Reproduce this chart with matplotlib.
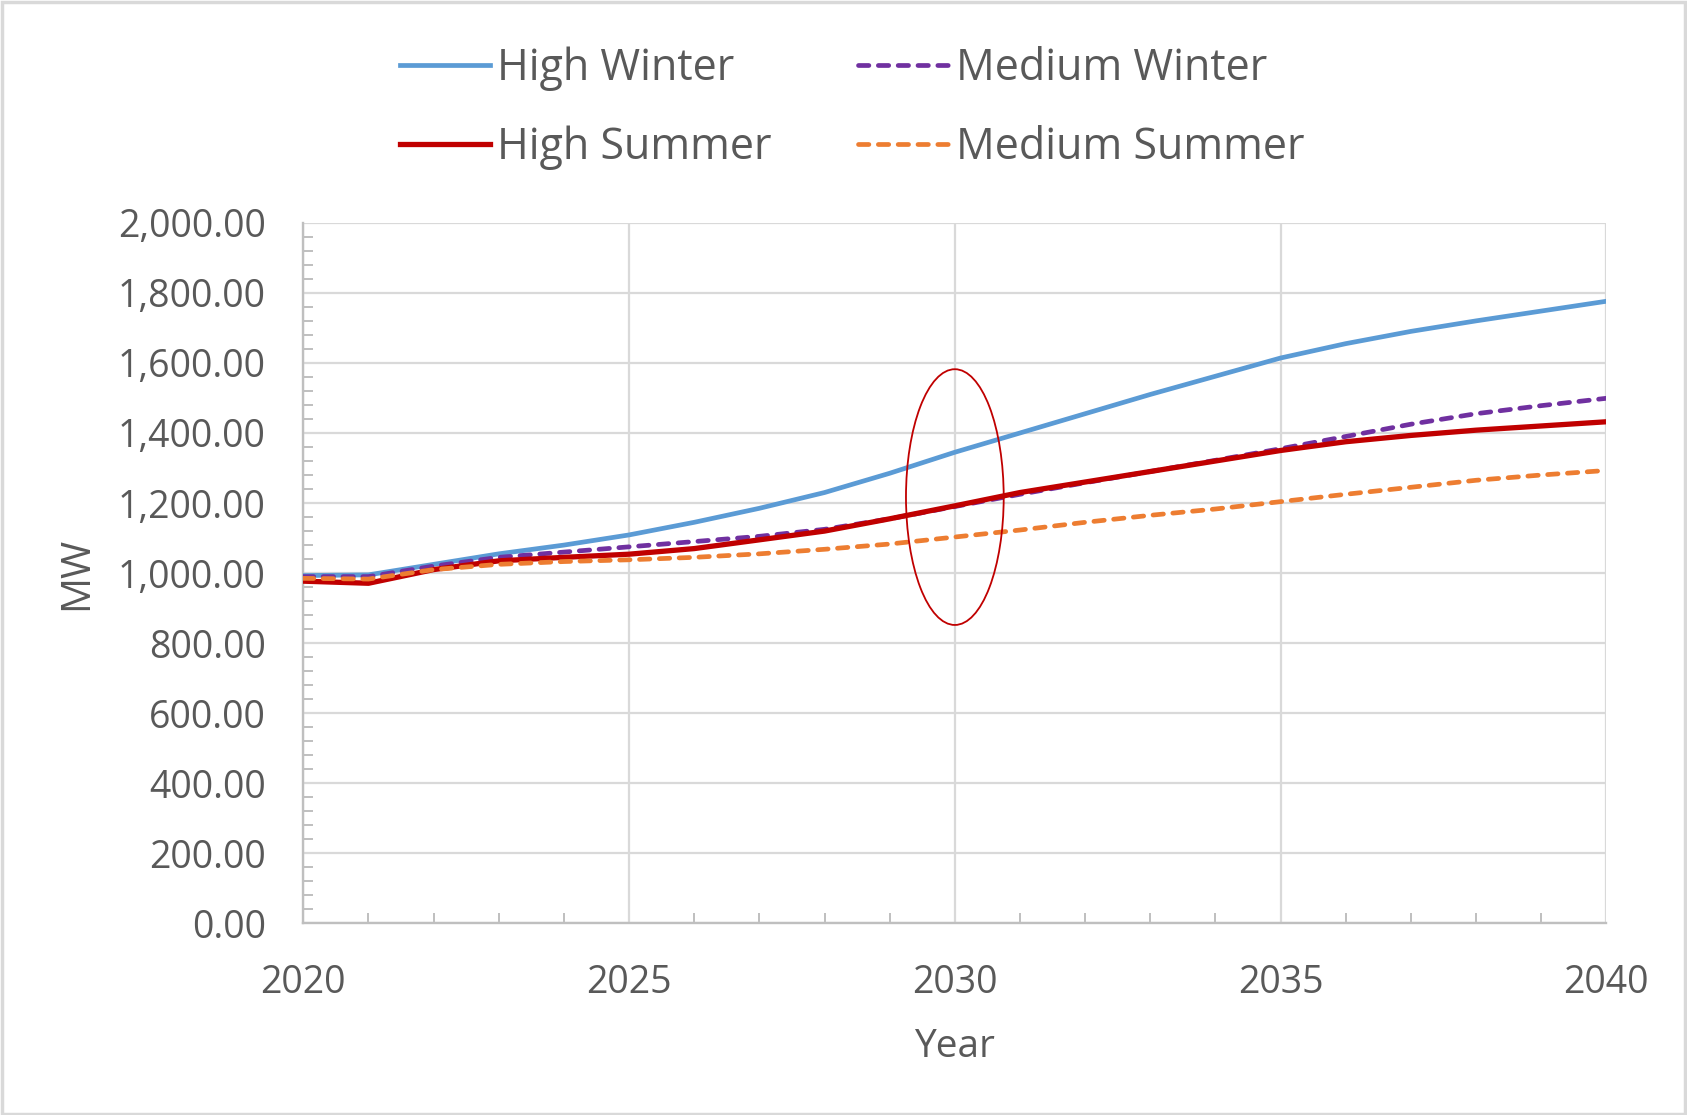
import matplotlib
matplotlib.use("Agg")
import matplotlib.pyplot as plt
from matplotlib.patches import Ellipse, Rectangle
from matplotlib.ticker import MultipleLocator, FuncFormatter

years = list(range(2020, 2041))

high_winter = [993, 995, 1025, 1055, 1080, 1109, 1145, 1185, 1230, 1285, 1345,
               1400, 1455, 1510, 1562, 1614, 1655, 1690, 1720, 1748, 1776]
medium_winter = [990, 990, 1020, 1045, 1060, 1075, 1090, 1105, 1125, 1155, 1190,
                 1225, 1258, 1290, 1322, 1355, 1390, 1425, 1455, 1478, 1499]
high_summer = [977, 971, 1010, 1035, 1045, 1054, 1070, 1095, 1120, 1155, 1192,
               1230, 1260, 1290, 1320, 1350, 1375, 1393, 1408, 1420, 1432]
medium_summer = [985, 983, 1010, 1025, 1033, 1038, 1045, 1055, 1068, 1083, 1103,
                 1123, 1145, 1165, 1183, 1204, 1225, 1245, 1265, 1280, 1293]

# highlighted region around 2030
highlight_year = 2030
highlight_mw = 1217
highlight_width_years = 1.5
highlight_height_mw = 730

plt.rcParams["font.family"] = ["Open Sans", "DejaVu Sans"]
TEXT = "#595959"
GRID = "#D9D9D9"
AXIS = "#BFBFBF"

fig = plt.figure(figsize=(16.87, 11.15), dpi=100)
ax = fig.add_axes([0.1798, 0.1718, 0.9522 - 0.1798, 0.8002 - 0.1718])

lw = 3.4
dash = (0, (2.2, 2.0))
ax.plot(years, high_winter, color="#5B9BD5", lw=lw, label="High Winter", zorder=3)
ax.plot(years, medium_winter, color="#7030A0", lw=lw, ls=dash,
        dash_capstyle="round", label="Medium Winter", zorder=4)
ax.plot(years, high_summer, color="#C00000", lw=lw + 0.4, label="High Summer", zorder=5)
ax.plot(years, medium_summer, color="#ED7D31", lw=lw, ls=dash,
        dash_capstyle="round", label="Medium Summer", zorder=6)

ax.add_patch(Ellipse((highlight_year, highlight_mw), highlight_width_years,
                     highlight_height_mw, fill=False, edgecolor="#C00000",
                     lw=1.3, zorder=7))

ax.set_xlim(2020, 2040)
ax.set_ylim(0, 2000)
ax.xaxis.set_major_locator(MultipleLocator(5))
ax.xaxis.set_minor_locator(MultipleLocator(1))
ax.yaxis.set_major_locator(MultipleLocator(200))
ax.yaxis.set_minor_locator(MultipleLocator(40))
ax.yaxis.set_major_formatter(FuncFormatter(lambda v, p: f"{v:,.2f}"))

ax.grid(True, which="major", color=GRID, lw=1.6, zorder=0)
ax.set_axisbelow(True)
for s in ("top", "right"):
    ax.spines[s].set_visible(False)
for s in ("left", "bottom"):
    ax.spines[s].set_color(AXIS)
    ax.spines[s].set_linewidth(1.7)

ax.tick_params(which="major", length=0, labelsize=27, labelcolor=TEXT)
ax.tick_params(axis="y", which="major", pad=27)
ax.tick_params(axis="x", which="major", pad=29)
ax.tick_params(which="minor", direction="in", length=7, width=1.4, color=AXIS)

ax.set_xlabel("Year", fontsize=28, color=TEXT)
ax.set_ylabel("MW", fontsize=29, color=TEXT)
ax.xaxis.set_label_coords(0.5, -0.149)
ax.yaxis.set_label_coords(-0.1585, 0.5)

handles, labels = ax.get_legend_handles_labels()
order = [0, 2, 1, 3]
leg = fig.legend([handles[i] for i in order], [labels[i] for i in order],
                 loc="center", bbox_to_anchor=(0.505, 0.903), ncol=2,
                 frameon=False, fontsize=31, handlelength=2.1, handletextpad=0.17,
                 columnspacing=2.0, labelspacing=0.8)
for t in leg.get_texts():
    t.set_color(TEXT)

fig.add_artist(Rectangle((0.001, 0.001), 0.998, 0.997, transform=fig.transFigure,
                         fill=False, edgecolor=GRID, lw=2.5))

fig.savefig("out.png", dpi=100, facecolor="white")
